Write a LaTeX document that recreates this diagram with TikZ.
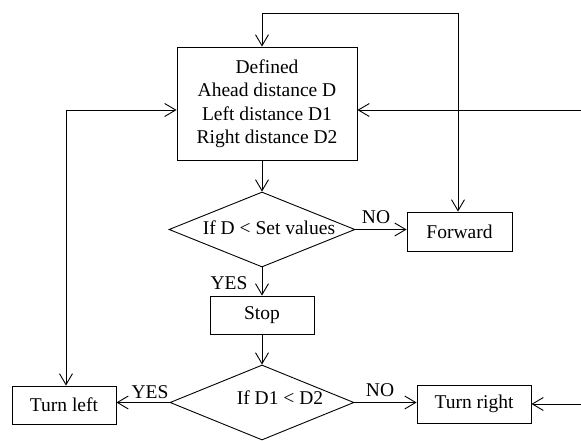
\documentclass[tikz,border=0pt]{standalone}
\usepackage{fontspec}
\setmainfont{Liberation Serif}
\usetikzlibrary{arrows.meta,shapes.geometric}
\begin{document}
\begin{tikzpicture}[x=1pt,y=-1pt,
  every node/.style={font=\fontsize{19.5}{23.5}\selectfont},
  box/.style={draw, line width=0.9pt, inner sep=0, align=center},
  dia/.style={draw, diamond, line width=0.9pt, inner sep=0, minimum width=186pt, minimum height=75pt},
  lbl/.style={inner sep=0},
  conn/.style={line width=0.9pt, -{Straight Barb[length=11pt,width=13pt]}},
  dconn/.style={line width=0.9pt, {Straight Barb[length=11pt,width=13pt]}-{Straight Barb[length=11pt,width=13pt]}},
  ]
\useasboundingbox (0,0) rectangle (581,441);
\node[box, minimum width=180pt, minimum height=113pt] (def) at (267,103.5) {Defined\\Ahead distance D\\Left distance D1\\Right distance D2};
\node[dia] (d1) at (262,229.5) {};
\node[lbl] (d1t) at (269,228) {If D < Set values};
\node[box, minimum width=105pt, minimum height=39pt] (fwd) at (459.5,231.5) {Forward};
\node[box, minimum width=104pt, minimum height=38pt] (stop) at (262,315) {Stop};
\node[dia, minimum width=184pt] (d2) at (262,402.5) {};
\node[lbl] (d2t) at (280,398) {If D1 < D2};
\node[box, minimum width=104pt, minimum height=38pt] (tl) at (64,405) {Turn left};
\node[box, minimum width=114pt, minimum height=38pt] (tr) at (474,404) {Turn right};
\node[lbl] (no1) at (376,217) {NO};
\node[lbl] (yes1) at (229,283) {YES};
\node[lbl] (yes2) at (150,392) {YES};
\node[lbl] (no2) at (380,390) {NO};
\coordinate (r1) at (581,110);
\coordinate (r2) at (581,404);
\coordinate (t1) at (458,13);
\coordinate (l1) at (66,110);
\draw[conn] (def.south -| d1.north) -- (d1.north);
\draw[conn] (d1.east) -- (d1.east -| fwd.west);
\draw[conn] (d1.south) -- (stop.north);
\draw[conn] (stop.south) -- (d2.north);
\draw[conn] (d2.west) -- (d2.west -| tl.east);
\draw[conn] (d2.east) -- (d2.east -| tr.west);
\draw[conn] (r2) -- (r2 -| tr.east);
\draw[conn] (r1) -- (r1 -| def.east);
\draw[dconn] (fwd.north -| t1) -- (t1) -- (t1 -| d1.north) -- (def.north -| d1.north);
\draw[dconn] (tl.north -| l1) -- (l1) -- (l1 -| def.west);
\end{tikzpicture}
\end{document}
